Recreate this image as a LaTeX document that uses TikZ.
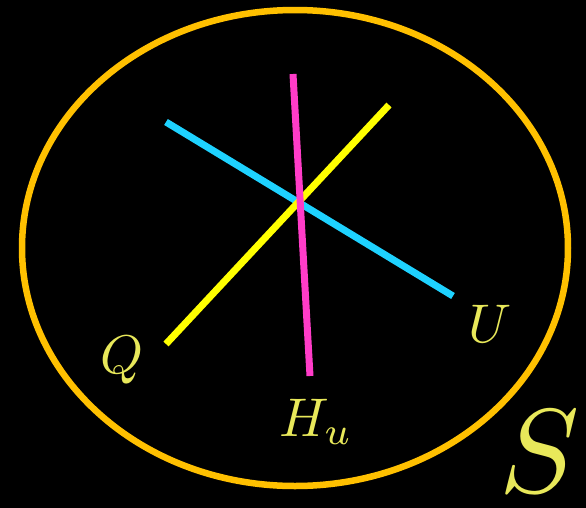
\documentclass[tikz,border=0pt]{standalone}
\usepackage{tikz}
\usepackage{graphicx}
\usetikzlibrary{positioning}
\usepackage{xcolor}

\definecolor{rim}{RGB}{255,192,0}
\definecolor{cyanline}{RGB}{30,210,255}
\definecolor{yelline}{RGB}{255,255,0}
\definecolor{magline}{RGB}{255,60,200}
\definecolor{labtext}{RGB}{232,232,90}

\newcommand{\biglab}[2]{\scalebox{#1}{$#2$}}

\begin{document}
\begin{tikzpicture}[x=0.02cm, y=-0.02cm,
  seg/.style={line width=0.14cm},
  lab/.style={text=labtext, inner sep=0pt}]
  % background
  \fill[black] (0,0) rectangle (586,508);
  \useasboundingbox (0,0) rectangle (586,508);

  % the set S
  \draw[rim, line width=0.13cm] (295,248) ellipse [x radius=273, y radius=238];

  % end points
  \coordinate (u1) at (166,122);
  \coordinate (u2) at (453,296);
  \coordinate (q1) at (166,344);
  \coordinate (q2) at (389,105);
  \coordinate (h1) at (293,74);
  \coordinate (h2) at (310,376);

  % the three lines
  \draw[seg, cyanline] (u1) -- (u2);
  \draw[seg, yelline] (q1) -- (q2);
  \draw[seg, magline] (h1) -- (h2);

  % labels
  \node[lab] (Q) at (122,360) {\biglab{3.1}{Q}};
  \node[lab] (U) at (490,324) {\biglab{3.1}{U}};
  \node[lab] (H) at (316,422) {\biglab{3.1}{H_u}};
  \node[lab] (S) at (540,452) {\biglab{6.8}{S}};
\end{tikzpicture}
\end{document}
